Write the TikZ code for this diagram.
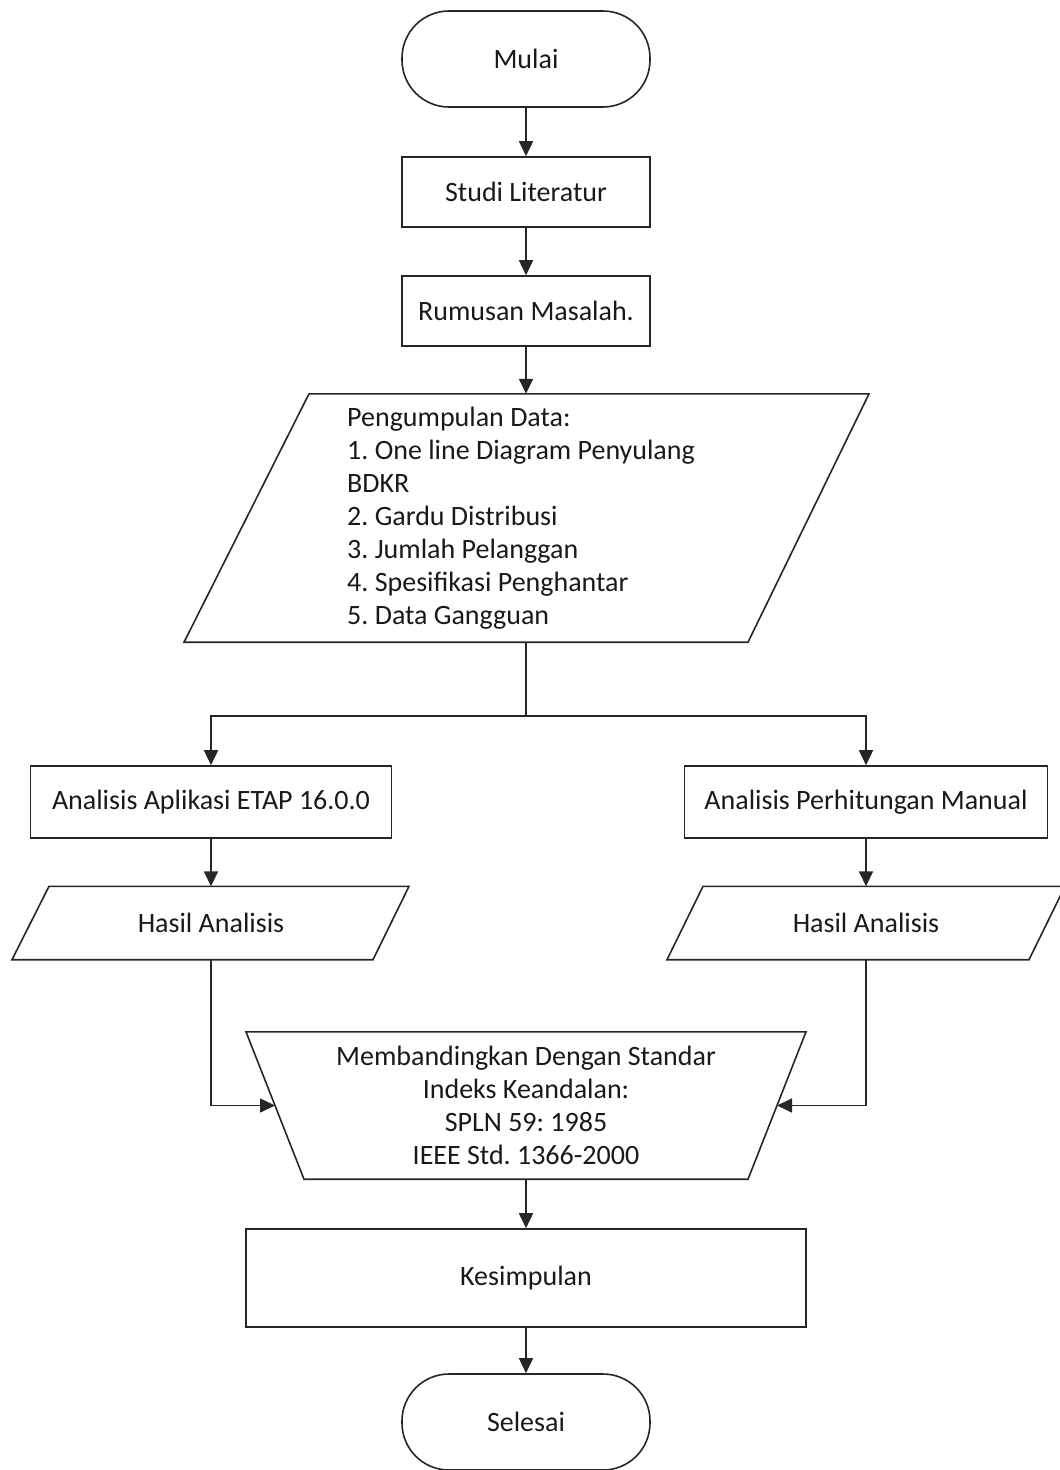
\documentclass[tikz,border=0pt]{standalone}
\usepackage{fontspec}
\setmainfont{Carlito}
\frenchspacing
\usetikzlibrary{arrows.meta,calc}
\begin{document}
\begin{tikzpicture}[x=1pt,y=-1pt,
  every node/.style={font=\fontsize{28}{33}\selectfont\frenchspacing, inner sep=0pt, text=black!90},
  line/.style={line width=1.6pt, draw=black!85},
  arr/.style={line, -{Triangle[length=15pt,width=14pt]}},
  box/.style={draw=black!85, line width=1.6pt, rectangle, minimum width=248pt, minimum height=70pt},
  term/.style={draw=black!85, line width=1.6pt, rectangle, rounded corners=47pt, minimum width=248pt, minimum height=96pt},
  ghost/.style={rectangle, draw=none},
]
\useasboundingbox (0,0) rectangle (1060,1470);
\clip (0,0) rectangle (1060,1470);

% nodes
\node[term] (mulai) at (526,59) {Mulai};
\node[box] (studi) at (526,192) {Studi Literatur};
\node[box] (rumusan) at (526,311) {Rumusan Masalah.};

\node[ghost, minimum width=400pt, minimum height=248pt] (data) at (526,518) {};
\draw[line] ($(data.north)+(-217,0)$) -- ($(data.north)+(343,0)$) -- ($(data.south)+(222,0)$) -- ($(data.south)+(-342,0)$) -- cycle;
\node[ghost, anchor=west, align=flush left, text width=400pt] (datatext) at (347,518)
  {Pengumpulan Data:\\1. One line Diagram Penyulang\\BDKR\\2. Gardu Distribusi\\3. Jumlah Pelanggan\\4. Spesifikasi Penghantar\\5. Data Gangguan};

\coordinate (split) at (526,716);

\node[box, minimum width=361pt, minimum height=72pt] (ana1) at (211,802) {Analisis Aplikasi ETAP 16.0.0};
\node[box, minimum width=363pt, minimum height=72pt] (ana2) at (866,802) {Analisis Perhitungan Manual};

\node[ghost, minimum width=290pt, minimum height=73pt] (hasil1) at (211,923) {Hasil Analisis};
\draw[line] ($(hasil1.north)+(-162,0)$) -- ($(hasil1.north)+(198,0)$) -- ($(hasil1.south)+(162,0)$) -- ($(hasil1.south)+(-199,0)$) -- cycle;
\node[ghost, minimum width=290pt, minimum height=73pt] (hasil2) at (866,923) {Hasil Analisis};
\draw[line] ($(hasil2.north)+(-163,0)$) -- ($(hasil2.north)+(199,0)$) -- ($(hasil2.south)+(163,0)$) -- ($(hasil2.south)+(-199,0)$) -- cycle;

\node[ghost, minimum width=440pt, minimum height=147pt, align=center] (cmp) at (526,1105.5)
  {Membandingkan Dengan Standar\\Indeks Keandalan:\\SPLN 59: 1985\\IEEE Std. 1366-2000};
\draw[line] ($(cmp.north)+(-280,0)$) -- ($(cmp.north)+(280,0)$) -- ($(cmp.south)+(222,0)$) -- ($(cmp.south)+(-222,0)$) -- cycle;
\coordinate (cmpL) at ($(cmp.center)+(-251,0)$);
\coordinate (cmpR) at ($(cmp.center)+(251,0)$);

\node[box, minimum width=560pt, minimum height=98pt] (kes) at (526,1278) {Kesimpulan};
\node[term] (selesai) at (526,1422) {Selesai};

% connectors
\draw[arr] (mulai) -- (studi);
\draw[arr] (studi) -- (rumusan);
\draw[arr] (rumusan) -- (data);
\draw[line] (data.south) -- (split);
\draw[arr] (split) -| (ana1.north);
\draw[arr] (split) -| (ana2.north);
\draw[arr] (ana1) -- (hasil1);
\draw[arr] (ana2) -- (hasil2);
\draw[arr] (hasil1.south) |- (cmpL);
\draw[arr] (hasil2.south) |- (cmpR);
\draw[arr] (cmp) -- (kes);
\draw[arr] (kes) -- (selesai);
\end{tikzpicture}
\end{document}
